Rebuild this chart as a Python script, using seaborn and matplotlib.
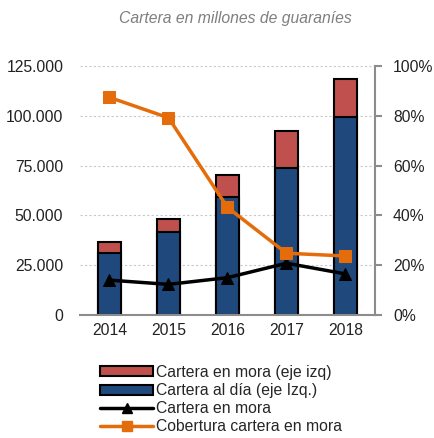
import numpy as np
import pandas as pd
import matplotlib
matplotlib.use('Agg')
import matplotlib.pyplot as plt
import seaborn as sns
from matplotlib.patches import Patch
from matplotlib.lines import Line2D
from matplotlib.ticker import FuncFormatter

# datos (millones de guaraníes)
years = ['2014', '2015', '2016', '2017', '2018']
cartera_total = [36800, 48000, 70300, 92500, 118500]
cartera_al_dia = [31300, 41800, 59400, 73600, 99200]
ratio_mora = [14.0, 12.3, 15.0, 20.8, 16.5]      # %
cobertura_mora = [87.4, 79.2, 43.2, 24.8, 23.7]  # %

sns.set_style('white')
plt.rcParams['font.family'] = ['Liberation Sans', 'DejaVu Sans']

red = '#C0504D'
blue = '#1F497D'
orange = '#E46C0A'
gray = '#8C8C8C'
fs = 11.3

df = pd.DataFrame({'year': years, 'total': cartera_total, 'aldia': cartera_al_dia})

fig = plt.figure(figsize=(4.35, 4.38), dpi=100)
ax = fig.add_axes([80/435, 1 - 315/438, 295/435, 249/438])

sns.barplot(data=df, x='year', y='total', color=red, width=0.4,
            edgecolor='black', linewidth=1.5, saturation=1, ax=ax, zorder=2)
sns.barplot(data=df, x='year', y='aldia', color=blue, width=0.4,
            edgecolor='black', linewidth=1.5, saturation=1, ax=ax, zorder=2)

ax.set_ylim(0, 125000)
ax.set_yticks(np.arange(0, 125001, 25000))
ax.yaxis.set_major_formatter(FuncFormatter(lambda v, p: f'{int(v):,}'.replace(',', '.')))
ax.set_xlim(-0.5, 4.5)
ax.set(xlabel=None, ylabel=None)
ax.grid(axis='y', color='#C8C8C8', linestyle=(0, (2, 2)), linewidth=0.8, zorder=0)
ax.set_axisbelow(True)
for s in ['top', 'right', 'left']:
    ax.spines[s].set_visible(False)
ax.spines['bottom'].set_color(gray)
ax.spines['bottom'].set_linewidth(1.5)
ax.tick_params(axis='both', length=0, labelsize=fs, colors='#222222')
ax.tick_params(axis='x', pad=6)
ax.tick_params(axis='y', pad=12)

ax2 = ax.twinx()
xs = np.arange(len(years))
sns.lineplot(x=xs, y=ratio_mora, color='black', linewidth=2.5, marker='^',
             markersize=8, markeredgecolor='black', ax=ax2, zorder=3)
sns.lineplot(x=xs, y=cobertura_mora, color=orange, linewidth=2.5, marker='s',
             markersize=9, markeredgecolor=orange, ax=ax2, zorder=3)
ax2.set_ylim(0, 100)
ax2.set_yticks(np.arange(0, 101, 20))
ax2.yaxis.set_major_formatter(FuncFormatter(lambda v, p: f'{int(v)}%'))
for s in ['top', 'left', 'bottom']:
    ax2.spines[s].set_visible(False)
ax2.spines['right'].set_color(gray)
ax2.spines['right'].set_linewidth(1.5)
ax2.tick_params(axis='y', length=5, width=1.5, color=gray, labelsize=fs,
                labelcolor='#222222', pad=8)
ax2.set(xlabel=None, ylabel=None)

fig.text(0.54, 1 - 18/438, 'Cartera en millones de guaraníes', ha='center', va='center',
         fontsize=fs, style='italic', color='#7F7F7F')

handles = [
    Patch(facecolor=red, edgecolor='black', linewidth=1.5),
    Patch(facecolor=blue, edgecolor='black', linewidth=1.5),
    Line2D([], [], color='black', linewidth=2.5, marker='^', markersize=7),
    Line2D([], [], color=orange, linewidth=2.5, marker='s', markersize=7),
]
labels = ['Cartera en mora (eje izq)', 'Cartera al día (eje Izq.)',
          'Cartera en mora', 'Cobertura cartera en mora']
fig.legend(handles, labels, loc='upper left', bbox_to_anchor=(100/435, 1 - 365/438),
           frameon=False, fontsize=fs, handlelength=3.4, handleheight=0.6,
           handletextpad=0.15, labelspacing=0.2, borderpad=0, borderaxespad=0)

fig.savefig('out.png', dpi=100)
